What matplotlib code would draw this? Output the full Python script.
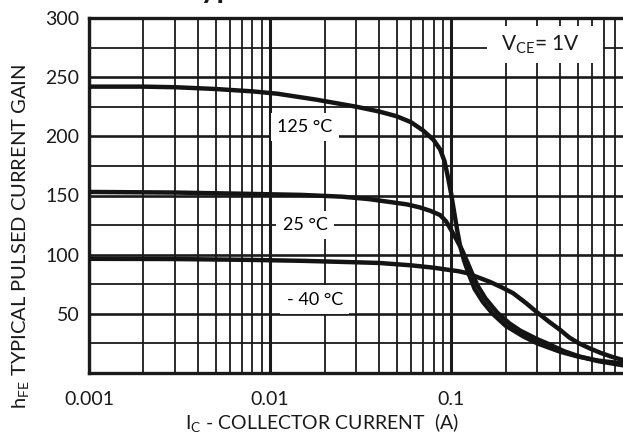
import numpy as np
import matplotlib
matplotlib.use("Agg")
import matplotlib.pyplot as plt
from matplotlib.ticker import FixedLocator, NullFormatter, FixedFormatter
from matplotlib.patches import Rectangle

plt.rcParams['font.family'] = ['Lato', 'DejaVu Sans']
plt.rcParams['mathtext.fontset'] = 'custom'
plt.rcParams['mathtext.rm'] = 'Lato'
plt.rcParams['mathtext.it'] = 'Lato'

# Data (Ic in A, hFE)
ic_125 = [0.001, 0.002, 0.003, 0.005, 0.008, 0.011, 0.018, 0.03, 0.04, 0.05,
          0.06, 0.07, 0.08, 0.087, 0.092, 0.096, 0.1, 0.104, 0.108, 0.112,
          0.118, 0.125, 0.135, 0.15, 0.17, 0.2, 0.25, 0.3, 0.4, 0.5, 0.65, 0.89]
hfe_125 = [242, 242, 241.5, 240, 238, 236, 231, 225, 221, 217,
           212, 205, 197, 189, 179, 166, 152, 136, 121, 108,
           95, 84, 71, 60, 50, 40, 31, 25, 18, 14, 10.5, 8]

ic_25 = [0.001, 0.003, 0.007, 0.015, 0.025, 0.035, 0.046, 0.057, 0.067, 0.077,
         0.087, 0.094, 0.1, 0.107, 0.115, 0.122, 0.13, 0.14, 0.155, 0.18,
         0.21, 0.24, 0.3, 0.34, 0.42, 0.51, 0.65, 0.89]
hfe_25 = [153, 152.5, 151.5, 150.5, 149, 147, 144.5, 142.5, 140, 137,
          133.5, 128, 121, 113, 104, 95, 85, 74, 63, 51,
          42, 36, 28.5, 25, 18.5, 14, 10, 6.5]

ic_m40 = [0.001, 0.003, 0.0077, 0.015, 0.0277, 0.04, 0.06, 0.08, 0.0985, 0.11,
          0.122, 0.14, 0.164, 0.19, 0.22, 0.26, 0.30, 0.35, 0.40, 0.45,
          0.51, 0.58, 0.67, 0.78, 0.89]
hfe_m40 = [96.5, 96.3, 95.6, 94.8, 93.7, 93, 91, 89, 87, 86,
           84.5, 81, 77, 72.5, 67.5, 59, 51, 43, 36.5, 30,
           25, 21, 17, 13.5, 11]

x_major = [0.001, 0.01, 0.1]
x_labels = ['0.001', '0.01', '0.1']
y_major = [50, 100, 150, 200, 250, 300]
y_minor = [25, 75, 125, 175, 225, 275]

W, H = 623, 434
L, R, B, T = 89, 623, 373, 18

fig = plt.figure(figsize=(W / 100, H / 100), dpi=100)
ax = fig.add_axes([L / W, 1 - B / H, (R - L) / W, (B - T) / H])

ax.set_xscale('log')
ax.set_xlim(0.001, 0.891)
ax.set_ylim(0, 300)

x_minor = [m * d for d in (0.001, 0.01, 0.1) for m in range(2, 10)]
ax.xaxis.set_major_locator(FixedLocator(x_major))
ax.xaxis.set_major_formatter(FixedFormatter(x_labels))
ax.xaxis.set_minor_locator(FixedLocator(x_minor))
ax.xaxis.set_minor_formatter(NullFormatter())
ax.yaxis.set_major_locator(FixedLocator(y_major))
ax.yaxis.set_minor_locator(FixedLocator(y_minor))

gc = '#1a1a1a'
ax.grid(which='major', axis='x', color=gc, lw=2.2)
ax.grid(which='minor', axis='x', color=gc, lw=1.3)
ax.grid(which='major', axis='y', color=gc, lw=1.9)
ax.grid(which='minor', axis='y', color=gc, lw=1.3)
ax.set_axisbelow(True)

ax.tick_params(which='both', length=0, labelsize=14, colors=gc)
ax.tick_params(axis='y', pad=7)
ax.tick_params(axis='x', pad=13)

for s in ('left', 'bottom', 'top'):
    ax.spines[s].set_linewidth(2.4)
    ax.spines[s].set_color(gc)
ax.spines['right'].set_visible(False)

lc = '#141414'
for xs, ys in ((ic_125, hfe_125), (ic_25, hfe_25), (ic_m40, hfe_m40)):
    ax.plot(xs, ys, color=lc, lw=3.2, solid_joinstyle='round',
            solid_capstyle='round', zorder=5)

box = dict(facecolor='white', edgecolor='none', pad=4.5)
ax.text(0.0156, 208, '125 °C', fontsize=13, ha='center', va='center', bbox=box, zorder=4)
ax.text(0.0156, 125, '25 °C', fontsize=13, ha='center', va='center', bbox=box, zorder=4)
ax.text(0.0177, 62, '- 40 °C', fontsize=13, ha='center', va='center', bbox=box, zorder=4)

# white panel behind the V_CE note
ax.add_patch(Rectangle(((487 - L) / (R - L), (B - 63) / (B - T)),
                       (603 - 487) / (R - L), (63 - 26) / (B - T),
                       transform=ax.transAxes, facecolor='white',
                       edgecolor='none', zorder=3))
ax.text(0.31, 277, r'V$_{\mathrm{CE}}$= 1V', fontsize=15, ha='center', va='center', zorder=4,
        color=gc)

ax.set_xlabel(r'I$_{\mathrm{C}}$ - COLLECTOR CURRENT  (A)', fontsize=14, color=gc)
ax.xaxis.label.set_va('center')
ax.xaxis.set_label_coords((322 - L) / (R - L), (B - 423) / (B - T))
ax.set_ylabel(r'h$_{\mathrm{FE}}$ TYPICAL PULSED CURRENT GAIN', fontsize=14.5, color=gc)
ax.yaxis.label.set_va('center')
ax.yaxis.set_label_coords((21 - L) / (R - L), (B - 236) / (B - T))

# title of the original sheet, almost entirely cropped off at the top
fig.text(182 / W, 1 + 2 / H, 'Typical Pulsed Current Gain vs Collector Current',
         fontsize=22, fontweight='bold', ha='left', va='baseline', color=gc)

fig.savefig('out.png', dpi=100)
